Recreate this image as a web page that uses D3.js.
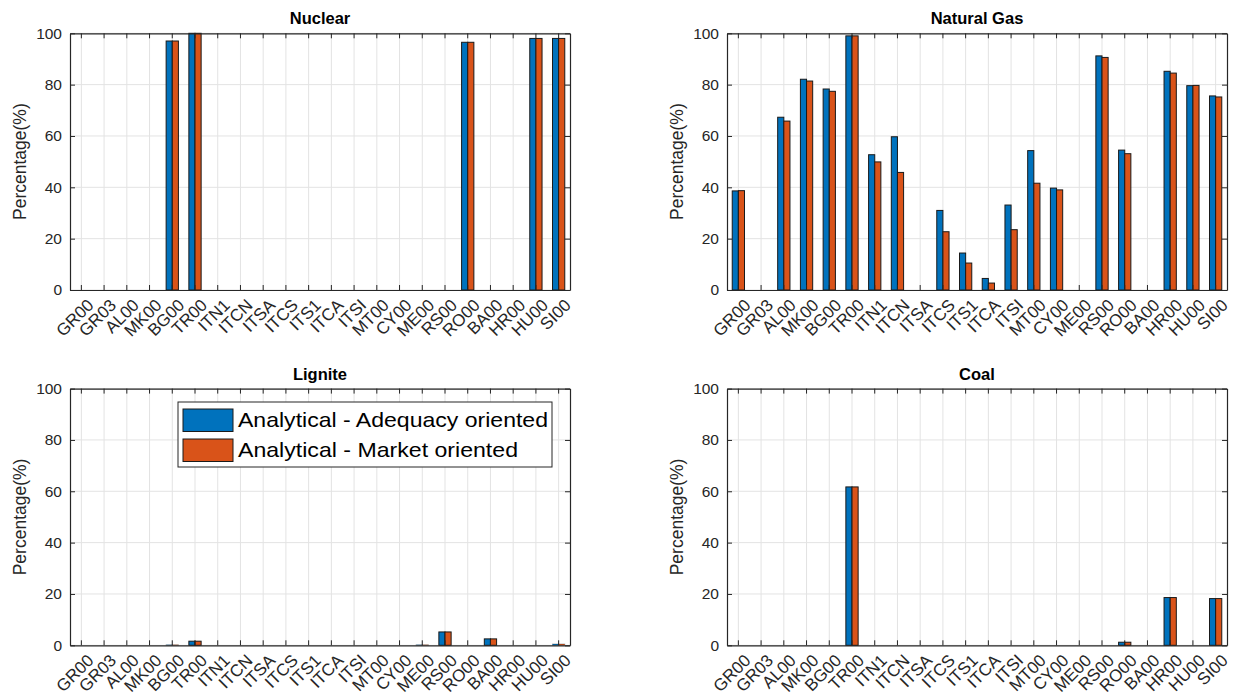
<!DOCTYPE html>
<html><head><meta charset="utf-8">
<script src="https://cdn.jsdelivr.net/npm/d3@7"></script>
<style>body{margin:0;background:#fff}svg{display:block}text{font-family:"Liberation Sans",Arial,sans-serif}</style>
</head><body><svg id="c" width="1237" height="695"></svg>
<script>
const categories = ["GR00","GR03","AL00","MK00","BG00","TR00","ITN1","ITCN","ITSA","ITCS","ITS1","ITCA","ITSI","MT00","CY00","ME00","RS00","RO00","BA00","HR00","HU00","SI00"];
const seriesNames = ["Analytical - Adequacy oriented","Analytical - Market oriented"];
const yTicks = [0,20,40,60,80,100];

const nuclearAdequacy = [0,0,0,0,97,100,0,0,0,0,0,0,0,0,0,0,0,96.5,0,0,98,98];
const nuclearMarket   = [0,0,0,0,97,100,0,0,0,0,0,0,0,0,0,0,0,96.5,0,0,98,98];
const gasAdequacy = [38.6,0,67.3,82.1,78.3,99,52.7,59.7,0,31.0,14.4,4.5,33.1,54.3,39.7,0,91.2,54.5,0,85.2,79.6,75.6];
const gasMarket   = [38.7,0,65.8,81.4,77.4,99,49.9,45.8,0,22.7,10.5,2.7,23.5,41.6,39.0,0,90.6,53.1,0,84.5,79.7,75.2];
const ligniteAdequacy = [0,0,0,0,0.2,1.6,0,0,0,0,0,0,0,0,0,0.2,5.2,0,2.5,0,0,0.5];
const ligniteMarket   = [0,0,0,0,0.2,1.6,0,0,0,0,0,0,0,0,0,0.2,5.2,0,2.5,0,0,0.5];
const coalAdequacy = [0,0,0,0,0,61.7,0,0,0,0,0,0,0,0,0,0,0,1.2,0,18.6,0,18.2];
const coalMarket   = [0,0,0,0,0,61.7,0,0,0,0,0,0,0,0,0,0,0,1.2,0,18.6,0,18.2];

const colors = ["#0072BD","#D95319"];
const svg = d3.select("#c");

const panels = [
  {title:"Nuclear", a:nuclearAdequacy, m:nuclearMarket, x0:70, x1:570, y0:33.3, y1:290},
  {title:"Natural Gas", a:gasAdequacy, m:gasMarket, x0:727, x1:1227, y0:33.3, y1:290},
  {title:"Lignite", a:ligniteAdequacy, m:ligniteMarket, x0:70, x1:570, y0:388.6, y1:645.3, legend:true},
  {title:"Coal", a:coalAdequacy, m:coalMarket, x0:727, x1:1227, y0:388.6, y1:645.3}
];

panels.forEach(p => {
  const g = svg.append("g");
  const x = d3.scaleBand().domain(categories).range([p.x0, p.x1]).paddingInner(0).paddingOuter(0);
  const y = d3.scaleLinear().domain([0,100]).range([p.y1, p.y0]);
  const step = x.step();
  const barW = step*0.27;
  g.selectAll(".gx").data(categories).enter().append("line")
    .attr("x1", d=>x(d)+step/2).attr("x2", d=>x(d)+step/2)
    .attr("y1", p.y0).attr("y2", p.y1).attr("stroke","#e3e3e3").attr("stroke-width",1);
  g.selectAll(".gy").data(yTicks).enter().append("line")
    .attr("x1", p.x0).attr("x2", p.x1).attr("y1", d=>y(d)).attr("y2", d=>y(d))
    .attr("stroke","#e3e3e3").attr("stroke-width",1);
  [p.a, p.m].forEach((vals, si) => {
    g.selectAll(null).data(categories).enter().append("rect")
      .attr("x", (d)=>x(d)+step/2 + (si===0 ? -barW : 0))
      .attr("width", barW)
      .attr("y", (d,i)=>y(vals[i]))
      .attr("height", (d,i)=>p.y1 - y(vals[i]))
      .attr("fill", colors[si]).attr("stroke","#1a1a1a").attr("stroke-width",1)
      .attr("stroke-opacity", (d,i)=> vals[i] < 1 ? 0.3 : 1);
  });
  const ax = d3.axisBottom(x).tickSize(-5).tickSizeOuter(0).tickFormat("");
  const axT = d3.axisTop(x).tickSize(-5).tickSizeOuter(0).tickFormat("");
  const ay = d3.axisLeft(y).tickValues(yTicks).tickSize(-5).tickSizeOuter(0).tickPadding(8);
  const ayR = d3.axisRight(y).tickValues(yTicks).tickSize(-5).tickSizeOuter(0).tickFormat("");
  const gx = g.append("g").attr("transform",`translate(0,${p.y1})`).call(ax);
  const gxt = g.append("g").attr("transform",`translate(0,${p.y0})`).call(axT);
  const gy = g.append("g").attr("transform",`translate(${p.x0},0)`).call(ay);
  const gyr = g.append("g").attr("transform",`translate(${p.x1},0)`).call(ayR);
  [gx,gxt,gy,gyr].forEach(a=>{a.selectAll("path,line").attr("stroke","#262626"); a.select(".domain").attr("stroke-width",1.2);});
  gy.selectAll("text").attr("fill","#262626").style("font-size","15.5px");
  g.selectAll(null).data(categories).enter().append("text")
    .attr("transform", d=>`translate(${x(d)+step/2+9},${p.y1+12}) rotate(-45)`)
    .attr("text-anchor","end").attr("dy","0.35em")
    .attr("fill","#262626").style("font-size","17px").text(d=>d);
  g.append("text").attr("x",(p.x0+p.x1)/2).attr("y",p.y0-9).attr("text-anchor","middle")
    .style("font-size","16.5px").style("font-weight","bold").attr("fill","#000").text(p.title);
  g.append("text").attr("transform",`translate(${p.x0-50},${(p.y0+p.y1)/2}) rotate(-90)`)
    .attr("text-anchor","middle").attr("dy","0.35em").attr("fill","#262626").style("font-size","17.5px").text("Percentage(%)");
  if (p.legend) {
    const lg = g.append("g");
    const lx = 178, ly = 402;
    lg.append("rect").attr("x",lx).attr("y",ly).attr("width",374).attr("height",65)
      .attr("fill","#fff").attr("stroke","#262626").attr("stroke-width",1);
    const lens = [310, 280];
    seriesNames.forEach((n,i)=>{
      lg.append("rect").attr("x",lx+5).attr("y",ly+7+i*30).attr("width",50).attr("height",22.5)
        .attr("fill",colors[i]).attr("stroke","#1a1a1a");
      lg.append("text").attr("x",lx+60).attr("y",ly+25+i*30)
        .attr("textLength",lens[i]).attr("lengthAdjust","spacingAndGlyphs")
        .style("font-size","21px").attr("fill","#000").text(n);
    });
  }
});
</script></body></html>
